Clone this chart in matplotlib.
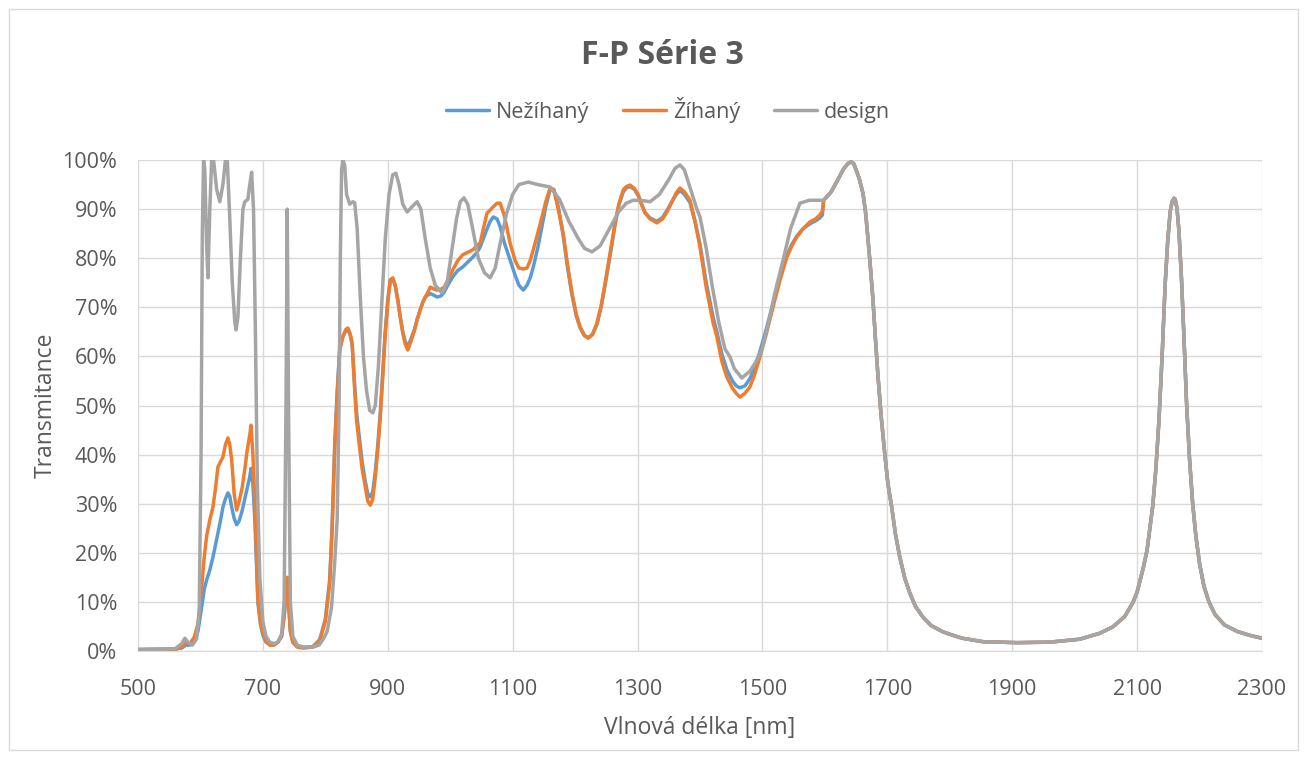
import matplotlib
matplotlib.use("Agg")
import matplotlib.pyplot as plt
import numpy as np
from matplotlib.patches import Rectangle
from matplotlib.ticker import FuncFormatter

# ── data ──────────────────────────────────────────────────────────────
design_nm = [500, 540, 560, 570, 575, 580, 587, 594, 598, 601, 603, 605, 607, 610, 612,
             615, 618, 621, 626, 631, 636, 640, 643, 647, 651, 655, 657, 660, 664, 668,
             671, 676, 679, 682, 685, 688, 691, 695, 700, 705, 711, 718, 724, 730, 734,
             737, 739, 741, 744, 748, 755, 765, 780, 790, 797, 803, 810, 815, 819, 822,
             824, 826, 828, 831, 834, 839, 844, 847, 851, 856, 861, 866, 871, 876, 880,
             885, 890, 896, 902, 908, 913, 918, 924, 931, 939, 947, 953, 960, 968, 976,
             987, 995, 1003, 1010, 1016, 1022, 1028, 1036, 1045, 1055, 1064, 1072, 1080,
             1090, 1100, 1110, 1125, 1140, 1160, 1175, 1190, 1205, 1215, 1227, 1240, 1255,
             1270, 1282, 1293, 1310, 1320, 1335, 1350, 1360, 1368, 1375, 1385, 1395, 1400,
             1410, 1420, 1430, 1440, 1448, 1455, 1467, 1480, 1490, 1499, 1510, 1520, 1533,
             1545, 1560, 1575, 1598, 1610, 1620, 1630, 1637, 1642, 1646, 1650, 1655, 1661,
             1665, 1669, 1673, 1677, 1681, 1685, 1690, 1696, 1701, 1707, 1713, 1720, 1728,
             1736, 1745, 1757, 1770, 1789, 1805, 1820, 1853, 1907, 1960, 2008, 2040, 2061,
             2080, 2093, 2100, 2110, 2116, 2120, 2125, 2130, 2135, 2140, 2145, 2149, 2153,
             2156, 2159, 2161, 2164, 2167, 2171, 2175, 2179, 2184, 2189, 2194, 2200, 2207,
             2215, 2225, 2240, 2260, 2280, 2300]
design_T = [0.3, 0.3, 0.5, 1.5, 2.6, 1.8, 1.2, 2.5, 8, 40, 85, 100, 98, 82, 76,
            90, 100, 100, 94, 91.5, 95, 100, 100, 88, 75, 67, 65.4, 68, 80, 90,
            91.5, 92, 95, 97.5, 90, 65, 35, 15, 6, 3, 1.8, 1.5, 1.8, 3.5, 10,
            50, 90, 50, 10, 3, 1.2, 0.8, 0.8, 1.2, 2.5, 4, 9, 18, 27, 50,
            80, 98, 100, 99, 93, 91, 91.5, 91.3, 86, 72, 60, 53, 49, 48.5, 50,
            58, 70, 84, 93, 97, 97.3, 95, 91, 89.4, 90.5, 91.5, 90, 84, 78, 74.5,
            72.9, 75, 82, 88, 91.5, 92.3, 91, 86, 80, 77, 76, 78, 83,
            89, 93, 95, 95.5, 95, 94.5, 92, 87.5, 84, 82, 81.3, 82.5, 86,
            89.5, 91.2, 91.8, 91.7, 91.5, 93, 96, 98.3, 99, 98, 94, 90, 88.4,
            82, 74, 67, 61.5, 59.9, 57.5, 55.6, 57, 59, 61.3, 67, 73, 79.6,
            86, 91.2, 91.8, 91.8, 93.5, 95.8, 98.2, 99.3, 99.6, 99.3, 98, 96.2, 93.2,
            89.5, 84, 78, 71.5, 63.5, 56, 48, 40, 34, 29.3, 23.8, 19.1, 14.8,
            11.8, 9.1, 6.9, 5.2, 3.9, 3.2, 2.6, 1.9, 1.7, 1.8, 2.4, 3.6, 4.9,
            7, 9.8, 12, 17, 20.6, 24.5, 29.5, 37, 47, 60, 74.9, 83.5, 89.5,
            91.5, 92.2, 92, 90, 85.5, 76, 64, 51, 39, 30, 23.5, 17.8, 13.2,
            10, 7.4, 5.3, 4, 3.2, 2.6]

# measured spectra (up to ~1596 nm, beyond that the chart follows the design)
meas_nm = [500, 560, 570, 577, 583, 590, 596, 602, 606, 610, 615, 620, 624, 628, 632,
           636, 640, 644, 647, 650, 654, 658, 662, 667, 671, 675, 679, 681, 684, 687,
           692, 696, 700, 705, 711, 718, 724, 730, 734, 737, 739, 741, 744, 748, 755,
           765, 780, 791, 800, 807, 811, 815, 819, 823, 828, 833, 836, 840, 843, 847,
           850, 854, 859, 864, 868, 872, 876, 880, 884, 888, 892, 896, 900, 904, 908,
           912, 916, 920, 924, 928, 932, 937, 943, 947, 952, 956, 960, 964, 968, 973,
           979, 985, 990, 996, 1004, 1012, 1020, 1028, 1036, 1043, 1048, 1053, 1059, 1064, 1069,
           1075, 1080, 1087, 1096, 1104, 1110, 1117, 1123, 1128, 1133, 1140, 1147, 1153, 1160, 1166,
           1173, 1181, 1188, 1195, 1202, 1208, 1215, 1221, 1228, 1235, 1242, 1248, 1256, 1264, 1270,
           1277, 1282, 1288, 1295, 1301, 1307, 1312, 1320, 1331, 1340, 1347, 1355, 1362, 1368, 1375,
           1384, 1392, 1400, 1410, 1421, 1427, 1435, 1443, 1452, 1458, 1464, 1472, 1480, 1488, 1496,
           1506, 1517, 1528, 1539, 1547, 1555, 1565, 1576, 1585, 1592, 1596]
nezihany_T = [0.3, 0.4, 0.6, 1.2, 1.2, 1.8, 4, 9, 12.5, 14.5, 16.5, 19.1, 21.5, 24, 26.5,
              29.3, 31, 32.2, 31.5, 29.3, 27, 25.7, 26.5, 28.7, 31, 33.4, 35.5, 37.2, 34, 27,
              10, 5.5, 3.2, 1.8, 1.3, 1.3, 1.8, 3, 7, 12, 14.5, 10, 4, 1.8, 0.9,
              0.7, 0.9, 2.3, 6.5, 14.5, 26, 42, 53, 61.5, 64, 65.3, 65.5, 64.3, 62.3, 54,
              48.5, 44, 38.5, 34.5, 32, 31.4, 32.5, 36.5, 42, 48.5, 57, 65, 71.5, 75.5, 75.8,
              74.3, 71.5, 68, 65, 63, 62, 63.5, 65.6, 67.5, 69.5, 71, 72, 72.5, 72.8, 72.5,
              72.1, 72.3, 73, 74.5, 76.2, 77.5, 78.2, 79.2, 80.2, 81.2, 82.3, 84, 86, 87.5, 88.4,
              88, 86.4, 83, 79.6, 76.5, 74.5, 73.5, 74.5, 76, 78.2, 82, 86.5, 90.5, 94, 93.8,
              90.5, 84.5, 78, 72.5, 68.2, 65.8, 64.2, 63.8, 64.5, 66.5, 70.3, 74.5, 80.5, 86.8, 90.8,
              93.5, 94.3, 94.6, 94, 92.8, 90.8, 89.3, 88.2, 87.5, 88.3, 89.7, 91.5, 93, 93.8, 93,
              91.3, 87.5, 82.8, 75, 68, 65, 60.5, 57.3, 55, 54, 53.6, 54, 55.5, 58, 61,
              65.5, 70.8, 76, 80.5, 82.8, 84.5, 86, 87, 87.6, 88.2, 88.8]
zihany_T = [0.3, 0.4, 0.8, 1.8, 1.5, 2.8, 5.5, 13, 19, 23.5, 26.7, 29.3, 33, 37.5, 38.5,
            39.5, 42, 43.4, 42, 38.9, 32, 28.7, 30.5, 33.4, 37, 41, 44, 46, 40, 30.8,
            10.4, 6, 3.7, 2, 1.2, 1.2, 1.8, 3, 7, 12, 15, 10, 4, 1.8, 0.8,
            0.6, 0.8, 2.2, 6, 13.8, 25, 41, 52, 61.3, 64, 65.5, 65.8, 64.5, 62.7, 53.2,
            47, 42.4, 37, 33.4, 30.5, 29.7, 31, 35.4, 41, 47.7, 56, 64.8, 71, 75.6, 76,
            74.5, 71.5, 68, 64.8, 62.5, 61.3, 63, 65.4, 67.5, 69.5, 71, 72.1, 73, 74.1, 73.8,
            73.5, 73.7, 74, 75.5, 77.6, 79.5, 80.7, 81.2, 81.7, 82.5, 83.1, 86, 89.2, 89.8, 90.5,
            91.2, 91.2, 88.5, 83, 79.5, 78, 77.8, 78, 79.5, 81.7, 85, 88.4, 91.5, 94.3, 94,
            90, 85, 78.5, 72.9, 68.5, 66, 64.3, 63.7, 64.5, 66.8, 70.5, 74.9, 81, 87.2, 91,
            93.9, 94.6, 94.9, 94.2, 92.9, 90.8, 89.2, 88, 87.2, 88, 89.4, 91.5, 93.3, 94.3, 93.5,
            91.8, 87.5, 82.3, 74, 66.8, 64, 59, 55.8, 53.5, 52.5, 51.7, 52.5, 53.8, 56.5, 59.9,
            64.5, 70.1, 75.5, 80.2, 82.5, 84.3, 86, 87.4, 88, 88.8, 89.6]

x_ticks = [500, 700, 900, 1100, 1300, 1500, 1700, 1900, 2100, 2300]
y_ticks = [0, 10, 20, 30, 40, 50, 60, 70, 80, 90, 100]

BLUE, ORANGE, GRAY = "#5B9BD5", "#ED7D31", "#A5A5A5"
TEXT = "#595959"
GRID = "#D9D9D9"

plt.rcParams["font.family"] = ["Open Sans", "DejaVu Sans"]


def with_design_tail(nm, T):
    # past the end of the measurement the series follow the design curve
    d_nm = np.array(design_nm, dtype=float)
    d_T = np.array(design_T, dtype=float)
    tail = d_nm > nm[-1]
    return (np.concatenate([nm, d_nm[tail]]),
            np.concatenate([T, d_T[tail]]))


fig = plt.figure(figsize=(13.07, 7.59), dpi=100)
ax = fig.add_axes([138 / 1307, 1 - 651 / 759, 1124 / 1307, 491 / 759])

# chart-area border
fig.patches.append(Rectangle((9 / 1307, 9 / 759), 1289 / 1307, 741 / 759,
                             transform=fig.transFigure, fill=False,
                             edgecolor=GRID, lw=1.0))

lw = 2.5
for T, color, label in [(nezihany_T, BLUE, "Nežíhaný"),
                        (zihany_T, ORANGE, "Žíhaný")]:
    x, y = with_design_tail(np.array(meas_nm, float), np.array(T, float))
    ax.plot(x, y, color=color, lw=lw, label=label,
            solid_joinstyle="round", solid_capstyle="round", zorder=3)
ax.plot(design_nm, design_T, color=GRAY, lw=lw, label="design",
        solid_joinstyle="round", solid_capstyle="round", zorder=4)

ax.set_xlim(500, 2300)
ax.set_ylim(0, 100)
ax.set_xticks(x_ticks)
ax.set_yticks(y_ticks)
ax.yaxis.set_major_formatter(FuncFormatter(lambda v, _: f"{v:.0f}%"))
ax.grid(True, color=GRID, lw=1.0)
ax.set_axisbelow(True)
for side in ["top", "right", "left"]:
    ax.spines[side].set_visible(False)
ax.spines["bottom"].set_color(GRID)
ax.tick_params(length=0, labelsize=15.5, colors=TEXT)
ax.tick_params(axis="y", pad=15)
ax.tick_params(axis="x", pad=20)

ax.set_xlabel("Vlnová délka [nm]", fontsize=16.5, color=TEXT, labelpad=12)
ax.set_ylabel("Transmitance", fontsize=16.5, color=TEXT, labelpad=3)

fig.text(662 / 1307, 1 - 55 / 759, "F-P Série 3", ha="center", va="center",
         fontsize=23, fontweight="bold", color=TEXT)
fig.legend(loc="center", bbox_to_anchor=(668 / 1307, 1 - 110 / 759), ncol=3,
           frameon=False, fontsize=15.5, handlelength=2.0, columnspacing=1.6,
           handletextpad=0.3, labelcolor=TEXT)

fig.savefig("out.png", dpi=100)
